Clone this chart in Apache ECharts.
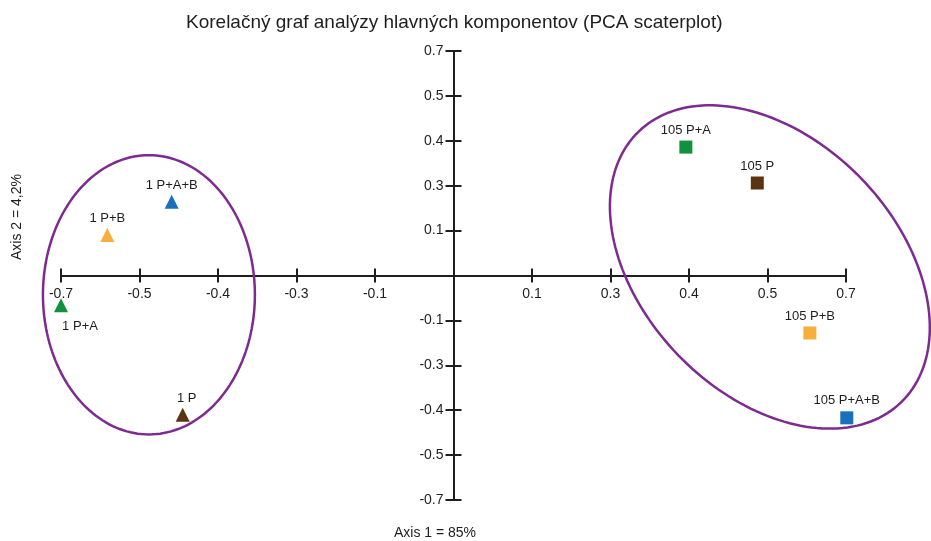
<!DOCTYPE html>
<html>
<head>
<meta charset="utf-8">
<script src="https://cdn.jsdelivr.net/npm/echarts@6/dist/echarts.min.js"></script>
<style>html,body{margin:0;padding:0;background:#fff}#c{width:931px;height:541px}</style>
</head>
<body>
<div id="c"></div>
<script>
// Tick labels as printed on the original (evenly spaced positions -5..5)
const xTickLabels = ['-0.7','-0.5','-0.4','-0.3','-0.1','','0.1','0.3','0.4','0.5','0.7'];
const yTickLabels = ['-0.7','-0.5','-0.4','-0.3','-0.1','','0.1','0.3','0.4','0.5','0.7'];

// Day 1 samples (triangles), positions in tick units
const names1 = ['1 P+A','1 P+B','1 P+A+B','1 P'];
const x1 = [-5.0, -4.41, -3.59, -3.45];
const y1 = [-0.66, 0.90, 1.64, -3.10];

// Day 105 samples (squares)
const names105 = ['105 P+A','105 P','105 P+B','105 P+A+B'];
const x105 = [2.96, 3.87, 4.54, 5.01];
const y105 = [2.86, 2.06, -1.28, -3.17];

// Cluster ellipses: center x, center y, semi-axis u (x,y), semi-axis v (x,y)
const ellCx = [-3.88, 4.03];
const ellCy = [-0.43, 0.19];
const ellUx = [1.35, 1.671];
const ellUy = [0, -3.016];
const ellVx = [0, -1.166];
const ellVy = [3.11, -1.967];

const colorOf = {'P+A':'#12913d','P+B':'#f7ae3c','P+A+B':'#1a70bd','P':'#5a3411'};
function treat(n){ return n.split(' ')[1]; }

const txt = '#1e1e1e';
const font = 'Liberation Sans, Arial, Helvetica, sans-serif';

const G = {left:61, right:85, top:51, bottom:41};
const W = 931, H = 541;
const halfW = (W - G.left - G.right)/2;
const halfH = (H - G.top - G.bottom)/2;

const data1 = names1.map((n,i)=>({
  value:[x1[i], y1[i]], name:n,
  itemStyle:{color:colorOf[treat(n)], opacity:1},
  label: n==='1 P+A' ? {position:'bottom', offset:[19,5]} : (n==='1 P' ? {offset:[4,0]} : {})
}));
const data105 = names105.map((n,i)=>({
  value:[x105[i], y105[i]], name:n,
  itemStyle:{color:colorOf[treat(n)], opacity:1}
}));
const ellData = ellCx.map((c,i)=>[c, ellCy[i], ellUx[i], ellUy[i], ellVx[i], ellVy[i]]);

function axisX(pos, showLabel){
  return {type:'value', min:-5, max:5, interval:1, position:pos, offset:-halfH,
    axisLine:{show:true, onZero:false, lineStyle:{color:txt, width:2}},
    axisTick:{show:true, length:7, lineStyle:{color:txt, width:2}},
    axisLabel:{show:showLabel, formatter:v=>xTickLabels[Math.round(v)+5], color:txt, fontSize:14, fontFamily:font, margin:12},
    splitLine:{show:false}};
}
function axisY(pos, showLabel){
  return {type:'value', min:-5, max:5, interval:1, position:pos, offset:-halfW,
    axisLine:{show:true, onZero:false, lineStyle:{color:txt, width:2}},
    axisTick:{show:true, length:8, lineStyle:{color:txt, width:2}},
    axisLabel:{show:showLabel, formatter:v=>yTickLabels[Math.round(v)+5], color:txt, fontSize:14, fontFamily:font, margin:10},
    splitLine:{show:false}};
}

const chart = echarts.init(document.getElementById('c'), null, {renderer:'canvas'});
chart.setOption({
  backgroundColor:'#fff',
  animation:false,
  title:{text:'Korelačný graf analýzy hlavných komponentov (PCA scaterplot)', left:181, top:8,
    textStyle:{fontSize:19, fontWeight:'normal', color:txt, fontFamily:font}},
  grid:{left:G.left, right:G.right, top:G.top, bottom:G.bottom, containLabel:false},
  xAxis:[axisX('bottom', true), axisX('top', false)],
  yAxis:[axisY('left', true), axisY('right', false)],
  graphic:[
    {type:'text', x:435, y:533, style:{text:'Axis 1 = 85%', fill:txt, fontSize:14, fontFamily:font, align:'center', verticalAlign:'middle'}},
    {type:'text', x:17, y:217, rotation:Math.PI/2, style:{text:'Axis 2 = 4,2%', fill:txt, fontSize:14, fontFamily:font, align:'center', verticalAlign:'middle'}}
  ],
  series:[
    {type:'custom', xAxisIndex:0, yAxisIndex:0, clip:false, z:1, silent:true,
      data:ellData,
      renderItem:function(params, api){
        const cx=api.value(0), cy=api.value(1), ux=api.value(2), uy=api.value(3), vx=api.value(4), vy=api.value(5);
        const pts=[];
        const N=180;
        for(let k=0;k<=N;k++){
          const t=2*Math.PI*k/N;
          pts.push(api.coord([cx+ux*Math.cos(t)+vx*Math.sin(t), cy+uy*Math.cos(t)+vy*Math.sin(t)]));
        }
        return {type:'polyline', shape:{points:pts}, style:{fill:null, stroke:'#7d2a91', lineWidth:2.5}};
      }},
    {type:'scatter', name:'1', symbol:'triangle', symbolSize:14, z:3, clip:false, data:data1,
      label:{show:true, position:'top', distance:3, formatter:'{b}', color:txt, fontSize:13, fontFamily:font}},
    {type:'scatter', name:'105', symbol:'rect', symbolSize:13, z:3, clip:false, data:data105,
      label:{show:true, position:'top', distance:4, formatter:'{b}', color:txt, fontSize:13, fontFamily:font}}
  ]
});
</script>
</body>
</html>
